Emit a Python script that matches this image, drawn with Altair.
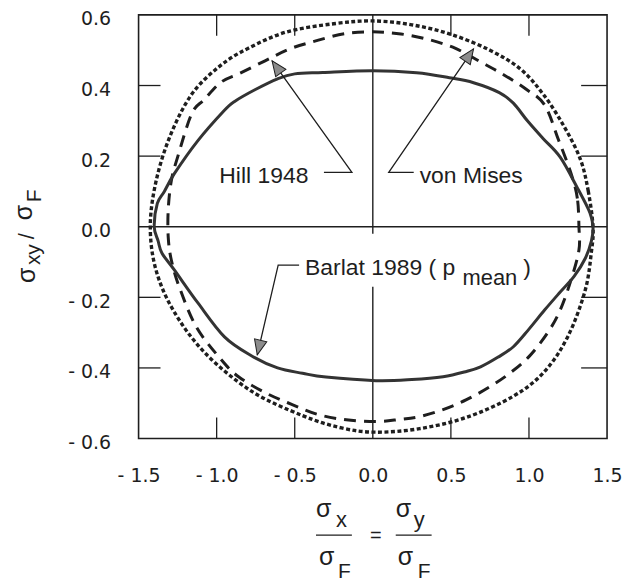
import altair as alt
import pandas as pd

# ---------------- data ----------------
# von Mises (short dashes, outermost curve)
vm_x = [1.41, 1.38, 1.33, 1.23, 1.10, 0.95, 0.75, 0.50, 0.25, 0.00, -0.25, -0.55, -0.80, -0.98,
        -1.16, -1.30, -1.39, -1.425, -1.39, -1.28, -1.08, -0.78, -0.45, -0.20, 0.02, 0.30, 0.60,
        0.90, 1.10, 1.25, 1.36, 1.40]
vm_y = [0.00, 0.10, 0.19, 0.28, 0.37, 0.445, 0.50, 0.545, 0.572, 0.583, 0.575, 0.552, 0.505, 0.455,
        0.375, 0.255, 0.125, 0.00, -0.12, -0.235, -0.355, -0.465, -0.535, -0.57, -0.582, -0.572, -0.54,
        -0.48, -0.41, -0.31, -0.18, -0.07]

# Hill 1948 (long dashes, middle curve)
hill_x = [1.32, 1.31, 1.27, 1.19, 1.10, 0.98, 0.84, 0.69, 0.53, 0.36, 0.18, 0.00, -0.18, -0.36,
          -0.53, -0.69, -0.85, -0.97, -1.08, -1.16, -1.25, -1.29, -1.31, -1.31, -1.29, -1.24, -1.13,
          -0.97, -0.86, -0.69, -0.52, -0.35, -0.17, 0.02, 0.17, 0.30, 0.45, 0.60, 0.75, 0.88, 1.00,
          1.12, 1.20, 1.27, 1.32]
hill_y = [0.00, 0.08, 0.15, 0.245, 0.345, 0.39, 0.43, 0.467, 0.505, 0.53, 0.546, 0.552, 0.547, 0.527,
          0.504, 0.47, 0.435, 0.41, 0.36, 0.32, 0.197, 0.131, 0.05, -0.03, -0.095, -0.17, -0.284,
          -0.377, -0.425, -0.47, -0.503, -0.532, -0.547, -0.552, -0.546, -0.538, -0.518, -0.49, -0.453,
          -0.414, -0.368, -0.30, -0.236, -0.15, -0.066]

# Barlat 1989 (p mean) (solid, innermost curve)
bar_x = [1.41, 1.39, 1.31, 1.20, 1.09, 0.99, 0.90, 0.81, 0.645, 0.49, 0.28, 0.00, -0.32, -0.50,
         -0.61, -0.755, -0.885, -0.95, -1.12, -1.27, -1.335, -1.38, -1.40, -1.375, -1.35, -1.27,
         -1.12, -0.95, -0.775, -0.61, -0.45, -0.30, 0.02, 0.25, 0.45, 0.60, 0.69, 0.80, 0.90, 1.00,
         1.10, 1.20, 1.29, 1.36, 1.40]
bar_y = [0.00, 0.04, 0.11, 0.197, 0.25, 0.30, 0.35, 0.38, 0.408, 0.422, 0.436, 0.442, 0.437, 0.433,
         0.419, 0.388, 0.355, 0.33, 0.244, 0.151, 0.10, 0.066, 0.00, -0.04, -0.075, -0.123, -0.216,
         -0.312, -0.366, -0.40, -0.415, -0.426, -0.436, -0.433, -0.425, -0.41, -0.397, -0.37, -0.34,
         -0.29, -0.236, -0.185, -0.14, -0.09, -0.04]

x_ticks = [-1.5, -1.0, -0.5, 0.0, 0.5, 1.0, 1.5]
y_ticks = [-0.6, -0.4, -0.2, 0.0, 0.2, 0.4, 0.6]
inner_x_ticks = [-1.0, -0.5, 0.5, 1.0]
inner_y_ticks = [-0.4, -0.2, 0.2, 0.4]

# annotation anchors (data units)
hill_label = ("Hill 1948", -0.983, 0.123)
vm_label = ("von Mises", 0.30, 0.123)
bar_label = ("Barlat 1989 ( p", -0.434, -0.137)
bar_sub = ("mean", 0.574, -0.165)
bar_close = (")", 0.964, -0.137)
hill_leader_x = [-0.313, -0.134, -0.645]
hill_leader_y = [0.154, 0.154, 0.470]
vm_leader_x = [0.262, 0.102, 0.645]
vm_leader_y = [0.154, 0.154, 0.504]
bar_leader_x = [-0.472, -0.606, -0.740]
bar_leader_y = [-0.109, -0.109, -0.363]
arrow_angles = [324.5, 34.4, 193.1]
box_x = [-0.45, 1.07]
box_y = [-0.02, -0.17]

# ---------------- layout / style ----------------
W, H = 470, 425
FONT = "Liberation Sans"
TICK_FONT = "DejaVu Sans"
INK = "#1e1e1e"
xs = alt.Scale(domain=[-1.5, 1.5], nice=False, zero=False)
ys = alt.Scale(domain=[-0.6, 0.6], nice=False, zero=False)
LABEL_EXPR = "datum.value < 0 ? '- ' + format(-datum.value, '.1f') : format(datum.value, '.1f')"

x_axis = alt.Axis(values=x_ticks, labelExpr=LABEL_EXPR, grid=False, domain=False, ticks=False,
                  tickSize=0, labelPadding=28, labelFontSize=19, labelFont=TICK_FONT, labelColor=INK,
                  title=None, labelFlush=False)
y_axis = alt.Axis(values=y_ticks, labelExpr=LABEL_EXPR, grid=False, domain=False, ticks=False,
                  tickSize=0, labelPadding=28, labelFontSize=19, labelFont=TICK_FONT, labelColor=INK,
                  title=None, labelFlush=False, labelBaseline="middle", labelOffset=4)


def X(field):
    return alt.X(field, scale=xs, axis=x_axis)


def Y(field):
    return alt.Y(field, scale=ys, axis=y_axis)


def curve_df(xv, yv):
    return pd.DataFrame({"x": xv, "y": yv, "i": list(range(len(xv)))})


# zero lines
zero_v = alt.Chart(pd.DataFrame({"v": [0.0]})).mark_rule(color=INK, strokeWidth=1.4).encode(x=X("v:Q"))
zero_h = alt.Chart(pd.DataFrame({"v": [0.0]})).mark_rule(color=INK, strokeWidth=1.4).encode(y=Y("v:Q"))

# inward ticks
tdf_x = pd.DataFrame({"v": inner_x_ticks})
tdf_y = pd.DataFrame({"v": inner_y_ticks})
ticks_top = alt.Chart(tdf_x).mark_rule(color=INK, strokeWidth=1.3).encode(
    x=X("v:Q"), y=alt.value(0), y2=alt.value(21))
ticks_bot = alt.Chart(tdf_x).mark_rule(color=INK, strokeWidth=1.3).encode(
    x=X("v:Q"), y=alt.value(H), y2=alt.value(H - 21))
ticks_left = alt.Chart(tdf_y).mark_rule(color=INK, strokeWidth=1.3).encode(
    y=Y("v:Q"), x=alt.value(0), x2=alt.value(22))
ticks_right = alt.Chart(tdf_y).mark_rule(color=INK, strokeWidth=1.3).encode(
    y=Y("v:Q"), x=alt.value(W), x2=alt.value(W - 26))

# white box behind the Barlat label
box = alt.Chart(pd.DataFrame({"x": [box_x[0]], "x2": [box_x[1]], "y": [box_y[0]], "y2": [box_y[1]]})
                ).mark_rect(color="white").encode(x=X("x:Q"), x2="x2:Q", y=Y("y:Q"), y2="y2:Q")


def curve(xv, yv, dash, width, color):
    kw = dict(interpolate="cardinal-closed", strokeWidth=width, color=color)
    if dash:
        kw["strokeDash"] = dash
    return alt.Chart(curve_df(xv, yv)).mark_line(**kw).encode(
        x=X("x:Q"), y=Y("y:Q"), order="i:Q")


vm_line = curve(vm_x, vm_y, [4, 2.5], 3.4, INK)
hill_line = curve(hill_x, hill_y, [12, 8], 3, INK)
bar_line = curve(bar_x, bar_y, None, 3, "#333333")

# leader lines
lead_rows = []
for g, (lx, ly) in enumerate([(hill_leader_x, hill_leader_y), (vm_leader_x, vm_leader_y),
                              (bar_leader_x, bar_leader_y)]):
    for k in range(len(lx)):
        lead_rows.append({"g": g, "i": k, "x": lx[k], "y": ly[k]})
leaders = alt.Chart(pd.DataFrame(lead_rows)).mark_line(color=INK, strokeWidth=1.3).encode(
    x=X("x:Q"), y=Y("y:Q"), detail="g:N", order="i:Q")

# arrowheads (tip at the path origin)
arrows_df = pd.DataFrame({"x": [hill_leader_x[-1], vm_leader_x[-1], bar_leader_x[-1]],
                          "y": [hill_leader_y[-1], vm_leader_y[-1], bar_leader_y[-1]],
                          "a": arrow_angles})
arrows = alt.Chart(arrows_df).mark_point(
    shape="M0,0L-0.42,1L0.42,1Z", filled=True, fill="#8c8c8c", stroke=INK, strokeWidth=1,
    size=900, opacity=1).encode(x=X("x:Q"), y=Y("y:Q"), angle=alt.Angle("a:Q", scale=None))


def dtext(item, size):
    t, x, y = item
    return alt.Chart(pd.DataFrame({"t": [t], "x": [x], "y": [y]})).mark_text(
        align="left", baseline="alphabetic", font=FONT, fontSize=size, color=INK).encode(
        x=X("x:Q"), y=Y("y:Q"), text="t:N")


labels = [dtext(hill_label, 23), dtext(vm_label, 23), dtext(bar_label, 23),
          dtext(bar_sub, 22), dtext(bar_close, 23)]


def ptext(t, px, py, size, angle=0, align="left"):
    kw = dict(align=align, baseline="alphabetic", font=FONT, fontSize=size, color=INK)
    if angle:
        kw["angle"] = angle
    return alt.Chart(pd.DataFrame({"t": [t]})).mark_text(**kw).encode(
        x=alt.value(px), y=alt.value(py), text="t:N")


def prule(x1, x2, y):
    return alt.Chart(pd.DataFrame({"k": [0]})).mark_rule(color=INK, strokeWidth=1.3).encode(
        x=alt.value(x1), x2=alt.value(x2), y=alt.value(y))


x_title = [
    ptext("σ", 178, 504, 25), ptext("x", 198, 514, 22), prule(178, 214, 522),
    ptext("σ", 181, 552, 25), ptext("F", 200, 565, 21),
    ptext("=", 238, 529, 20, align="center"),
    ptext("σ", 258, 504, 25), ptext("y", 276, 514, 22), prule(258, 294, 522),
    ptext("σ", 260, 552, 25), ptext("F", 280, 565, 21),
]
y_title = [
    ptext("σ", -104, 269, 25, angle=270), ptext("xy", -99, 251, 21, angle=270),
    ptext("/", -105, 225, 22, angle=270), ptext("σ", -107, 206, 25, angle=270),
    ptext("F", -98, 188, 21, angle=270),
]

chart = alt.layer(
    zero_v, zero_h, box, ticks_top, ticks_bot, ticks_left, ticks_right,
    vm_line, hill_line, bar_line, leaders, arrows, *labels, *x_title, *y_title
).properties(
    width=W, height=H,
    autosize=alt.AutoSizeParams(type="none"),
    padding={"left": 131, "top": 6, "right": 16, "bottom": 144},
    background="white",
).configure_view(stroke=INK, strokeWidth=1.6)

chart.save("out.html", embed_options={"renderer": "svg", "actions": False})
